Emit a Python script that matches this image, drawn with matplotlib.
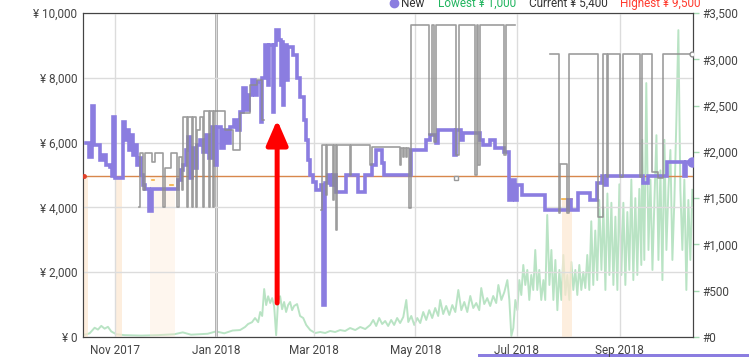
import numpy as np
import pandas as pd
import matplotlib
matplotlib.use("Agg")
import matplotlib.pyplot as plt
import matplotlib.dates as mdates
from matplotlib.ticker import FuncFormatter, MultipleLocator
from matplotlib.lines import Line2D
from matplotlib.patches import Rectangle

plt.rcParams['font.family'] = ['Roboto', 'DejaVu Sans']

# data (days counted from the first day shown)
start = pd.Timestamp('2017-10-13')
n_days = 367
nan = np.nan

# New price
new_days = [2, 3.6, 5.4, 6.6, 10.2, 12, 13.8, 16.3, 17.5, 18, 19.3, 24, 25.3, 26.5, 27.7, 28.9, 30.1, 31.3,
            32.5, 33.7, 34.9, 36.1, 37.3, 39.7, 41.5, 57.2, 59, 60.2, 62, 63.2, 64.4, 65.6, 66.8, 68.6, 70.4,
            72.2, 74, 75.9, 77.7, 79.5, 80.7, 83.1, 84.9, 86.7, 88.5, 90.9, 92.7, 94.5, 96.3, 98.1, 99.9,
            101.7, 103.6, 104.8, 107.2, 107.8, 109.6, 111.4, 112, 114.4, 115, 116.2, 118, 119.2, 119.8, 120.4,
            121, 122.8, 123.4, 126.4, 128.8, 130.6, 133, 134.3, 135.5, 136.7, 138.5, 140.3, 143.3, 144.5,
            145.7, 147.5, 149.3, 150.5, 152.3, 158.3, 165.6, 169.8, 174, 176.4, 180, 181.2, 197.5, 206.5,
            208.9, 212.5, 213.7, 223.4, 224.6, 227.6, 228.8, 239, 240.8, 245, 248, 253.5, 256.5, 258.3,
            260.1, 261.3, 264.3, 278.1, 292, 293.8, 298, 305.2, 309.4, 312.5, 314.3, 315.5, 337.1, 340.2,
            351.6, 361.8, 363, 366.6]
new_price = [5990, 5550, 7130, 5925, 5460, 5620, 5310, 5250, 4970, 6790, 4910, 6635, 6080, 6390, 5770, 6230,
             5620, 5925, 5310, 5520, 5000, 4690, 4570, 3890, 4570, 4845, 5150, 5310, 5770, 6170, 4910, 5830,
             5215, 5925, 6080, 5710, 6230, 5520, 6480, 5310, 6480, 5830, 6390, 5990, 6480, 6700, 6390, 6940,
             7680, 7005, 7470, 7930, 7470, 7870, 6635, 7990, 9010, 7780, 9010, 6940, 9010, 9475, 9165, 7780,
             9100, 7160, 9010, 7930, 8950, 8700, 7990, 7405, 6700, 6080, 5460, 5000, 4780, 4540, 4690, 990,
             4750, 5000, 4690, 5000, 4475, 5000, 4475, 5000, 5310, 5770, 5370, 5000, 5770, 6080, 6230, 5990,
             6390, 5620, 6390, 6080, 6295, 6080, 5925, 6080, 5830, 5710, 4230, 4845, 4230, 4690, 4380, 3920,
             4230, 3920, 4445, 4230, 4750, 4970, 4690, 4970, 4750, 4970, 5400, 4970, 5400, 5400]

# gray price line (gaps = nan)
gray_days = [33.7, 34.3, 36.1, 37.3, 41.5, 43.3, 48.2, 49.4, 53, 56.6, 57.8, 59.6, 60.2, 62.6, 63.2, 65.6,
             66.2, 68, 68.6, 70.4, 72.2, 72.8, 75.9, 76.5, 78.3, 78.9, 85.5, 90.3, 94.5, 100.5, 104.8, 107.8,
             109, 143.3, 143.9, 146.3, 146.9, 150.5, 151.1, 152.3, 152.9, 160.7, 161.3, 172.8, 174, 190.8,
             191.5, 192.7, 193.3, 194.5, 195, 196.3, 197.5, 208.3, 210.1, 211.3, 212.5, 224.6, 226.4, 236,
             237.2, 237.8, 239, 253.5, 254.7, 260.1, 281.2, 286.6, 287.2, 291.4, 292.6, 310, 313.1, 315.5,
             316.1, 323.3, 325.1, 335.3, 336.5, 342.6, 346.2, 349.2, 366.6]
gray_price = [4010, 5680, 4535, 5680, 5400, 5680, 4010, 5215, 5680, 4010, 5555, 4535, 6790, 4010, 6790, 4010,
              6790, 4010, 6390, 6790, 4010, 6975, 4010, 6975, 4010, 6975, 6390, 5770, 6900, 7780, 7930, 6700,
              nan, 3920, 5925, 4380, 5925, 4230, 5925, 3300, 5925, 5000, 5925, 5310, 5865, 5310, 5830, 5555,
              5830, 5555, 5830, 3980, 9630, 6230, 9630, 6020, 9630, 5615, 9630, 5000, 9630, 5310, 9630, 5615,
              9630, nan, 8730, 3825, 5340, 3825, 8730, 3700, 8730, 4940, 8730, 4940, 8730, 4940, 8730, 5090,
              4905, 8730, 8730]

# sales rank (right axis)
rank_days = [0, 4, 7, 9, 11, 13, 15, 17, 20, 25, 35, 45, 55, 60, 65, 75, 80, 85, 90, 94.5, 97.5, 99.3, 101.7,
             103.5, 105.4, 106.6, 107.8, 109, 110.2, 111.4, 112.6, 113.8, 115, 116.2, 117.4, 118.6, 119.8, 121,
             122.2, 123.4, 124.6, 125.8, 127, 128.8, 130.6, 132.5, 134.3, 136.7, 139.7, 142.7, 145.7, 148.7,
             151.7, 154.7, 157.7, 160.7, 163.8, 166.8, 169.8, 172.8, 174.6, 176.4, 178.2, 180, 181.8, 183.6,
             185.4, 187.2, 189, 190.8, 192.7, 194.5, 195.7, 197.5, 199.3, 201.1, 202.9, 204.7, 206.5, 208.3,
             210.1, 211.9, 213.7, 214.9, 216.7, 218.5, 220.4, 222.2, 224, 225.8, 227.6, 229.4, 231.2, 233,
             234.8, 236.6, 238.4, 239.6, 241.4, 243.2, 245, 246.8, 248.6, 249.9, 251.7, 253.5, 255.3, 256.5,
             257.7, 258.9, 260.1, 261.3, 262.5, 263.7, 264.9, 266.1, 267.3, 268.5, 269.7, 270.9, 272.1, 273.3,
             274.5, 275.7, 277, 278.1, 279.3, 280.6, 281.8, 283, 284.2, 285.4, 286.6, 287.8, 289, 290.2, 291.4,
             292.6, 293.8, 295, 296.2, 297.4, 298.6, 299.8, 301, 302.2, 303.4, 304.6, 305.8, 307, 308.2, 309.4,
             310.6, 311.9, 313.1, 314.3, 315.5, 316.7, 317.9, 319.1, 320.3, 321.5, 322.7, 323.9, 325.1, 326.3,
             327.5, 328.7, 329.9, 331.1, 332.3, 333.5, 334.7, 335.9, 336.5, 337.7, 338.9, 340.2, 341.4, 342.6,
             343.8, 345, 346.2, 347.4, 348.6, 349.8, 351, 352.2, 353.4, 354.6, 355.8, 357, 358.2, 359.4, 360.6,
             361.8, 363, 364.2, 365.4, 366.6]
rank_vals = [20, 40, 100, 80, 120, 90, 110, 60, 30, 20, 15, 20, 30, 50, 25, 35, 60, 40, 70, 75, 108, 140, 160,
             205, 160, 270, 227, 518, 345, 440, 367, 420, 335, 20, 400, 440, 300, 378, 270, 345, 378, 290, 335,
             356, 227, 205, 130, 75, 43, 54, 43, 65, 54, 75, 65, 97, 75, 108, 86, 130, 184, 119, 205, 140, 173,
             119, 184, 130, 205, 151, 216, 400, 162, 227, 130, 205, 151, 270, 184, 290, 205, 313, 227, 400, 248,
             335, 238, 345, 270, 508, 290, 378, 270, 443, 313, 367, 290, 529, 356, 420, 335, 443, 367, 562, 400,
             486, 615, 400, 11, 97, 400, 290, 615, 454, 778, 562, 724, 400, 670, 508, 940, 508, 724, 400, 615,
             400, 1318, 562, 940, 400, 832, 290, 724, 400, 886, 454, 670, 400, 810, 508, 724, 454, 778, 508,
             702, 529, 886, 508, 1250, 562, 1150, 615, 1480, 724, 1400, 508, 1550, 670, 1450, 562, 1300, 508,
             1650, 670, 1450, 562, 1350, 724, 1700, 615, 1500, 670, 1600, 778, 2130, 832, 2743, 940, 1700, 724,
             1480, 2180, 832, 1800, 615, 2130, 940, 1590, 2020, 832, 1480, 2340, 3315, 1590, 940, 1700, 508,
             1480, 832, 1590]

# list price line and amazon shading
list_price = 4960
amz_start = [0, 19.3, 40.3, 288]
amz_end = [3, 23.5, 55.4, 294]
amz_top = [4960, 4960, 4960, 4260]
amz_alpha = [0.7, 0.7, 0.35, 0.7]
amz_days = [41.5, 43, 44, 52.4, 54, 55, 288, 294]
amz_price = [4850, 4850, nan, 4690, 4690, nan, 4260, 4260]

# arrow annotation
arrow_day = 116.8
arrow_from = 1050
arrow_to = 6700

assert len(new_days) == len(new_price)
assert len(gray_days) == len(gray_price)
assert len(rank_days) == len(rank_vals)

def to_dates(d):
    return start + pd.to_timedelta(np.array(d, dtype=float), unit='D')

purple = '#8b7de0'
fig = plt.figure(figsize=(7.49, 3.57), dpi=100)
ax = fig.add_axes([83/749, 20/357, 610/749, 324/357])
ax2 = ax.twinx()

# sales rank behind
ax2.plot(to_dates(rank_days), rank_vals, color='#addfba', lw=1.4, alpha=0.85)
ax2.set_ylim(0, 3500)
ax2.yaxis.set_major_locator(MultipleLocator(500))
ax2.yaxis.set_major_formatter(FuncFormatter(lambda v, p: f'#{v:,.0f}'))
ax2.tick_params(axis='y', length=4, width=1, color='#a6dab3', labelcolor='#444444', labelsize=8.5, pad=3)

ax.set_zorder(ax2.get_zorder() + 1)
ax.patch.set_visible(False)

for s, e, t, a in zip(amz_start, amz_end, amz_top, amz_alpha):
    ax.fill_between(to_dates([s, e]), 0, t, color='#fde7d0', alpha=a, lw=0)

ax.axhline(list_price, color='#d8874c', lw=1.0, zorder=2)
ax.plot(to_dates(amz_days), amz_price, color='#f5b042', lw=1.2, zorder=2)

ax.plot(to_dates(new_days), new_price, drawstyle='steps-post', color=purple, lw=2.6, zorder=3,
        solid_joinstyle='miter')
ax.plot(to_dates(gray_days), gray_price, drawstyle='steps-post', color='#8c8c8c', lw=1.2, alpha=0.85, zorder=4)

ax.plot(to_dates([new_days[-1]]), [new_price[-1]], 'o', color=purple, ms=6.5, zorder=5)
ax.plot(to_dates([gray_days[-1]]), [gray_price[-1]], 'o', mfc='white', mec='#8c8c8c', ms=3.5, zorder=5)
ax.plot(to_dates([224.6]), [4905], 's', mfc='white', mec='#999999', ms=3.5, zorder=5)
ax.plot(to_dates([0.4]), [list_price], 'o', color='#e0402a', ms=2.5, zorder=5)

ax.annotate('', xy=(to_dates([arrow_day])[0], arrow_to), xytext=(to_dates([arrow_day])[0], arrow_from),
            arrowprops=dict(arrowstyle='-|>,head_length=1.5,head_width=0.65', color='red', lw=3.6,
                            mutation_scale=10, shrinkA=0, shrinkB=0), zorder=6)

ax.set_xlim(start, start + pd.Timedelta(days=n_days))
ax.set_ylim(0, 10000)
ax.yaxis.set_major_locator(MultipleLocator(2000))
ax.yaxis.set_major_formatter(FuncFormatter(lambda v, p: f'¥ {v:,.0f}'))
ax.xaxis.set_major_locator(mdates.MonthLocator(bymonth=[1, 3, 5, 7, 9, 11]))
ax.xaxis.set_major_formatter(mdates.DateFormatter('%b %Y'))
ax.tick_params(axis='both', length=0, labelcolor='#444444', labelsize=8.5)
ax.tick_params(axis='y', pad=4)
ax.tick_params(axis='x', pad=5)
ax.grid(True, color='#dcdcdc', lw=1, zorder=0)
ax.axvline(pd.Timestamp('2018-01-01'), color='#a0a0a0', lw=2, zorder=1)

for sp in ax.spines.values():
    sp.set_color('#444444')
for sp in ax2.spines.values():
    sp.set_color('#444444')

# header legend (cut off at top)
yb = 1 - 7/357
fig.add_artist(Line2D([394/749], [1 - 3/357], marker='o', ms=6, color=purple, transform=fig.transFigure))
fig.text(401/749, yb, 'New', color='#333333', fontsize=8.5, va='baseline')
fig.text(438/749, yb, 'Lowest ¥ 1,000', color='#22b560', fontsize=8.5, va='baseline')
fig.text(529/749, yb, 'Current ¥ 5,400', color='#333333', fontsize=8.5, va='baseline')
fig.text(620/749, yb, 'Highest ¥ 9,500', color='#ff3b2f', fontsize=8.5, va='baseline')

# range bar at bottom
fig.add_artist(Rectangle((478/749, 0), 271/749, 3/357, transform=fig.transFigure, color=purple, lw=0))

fig.savefig('out.png', dpi=100)
